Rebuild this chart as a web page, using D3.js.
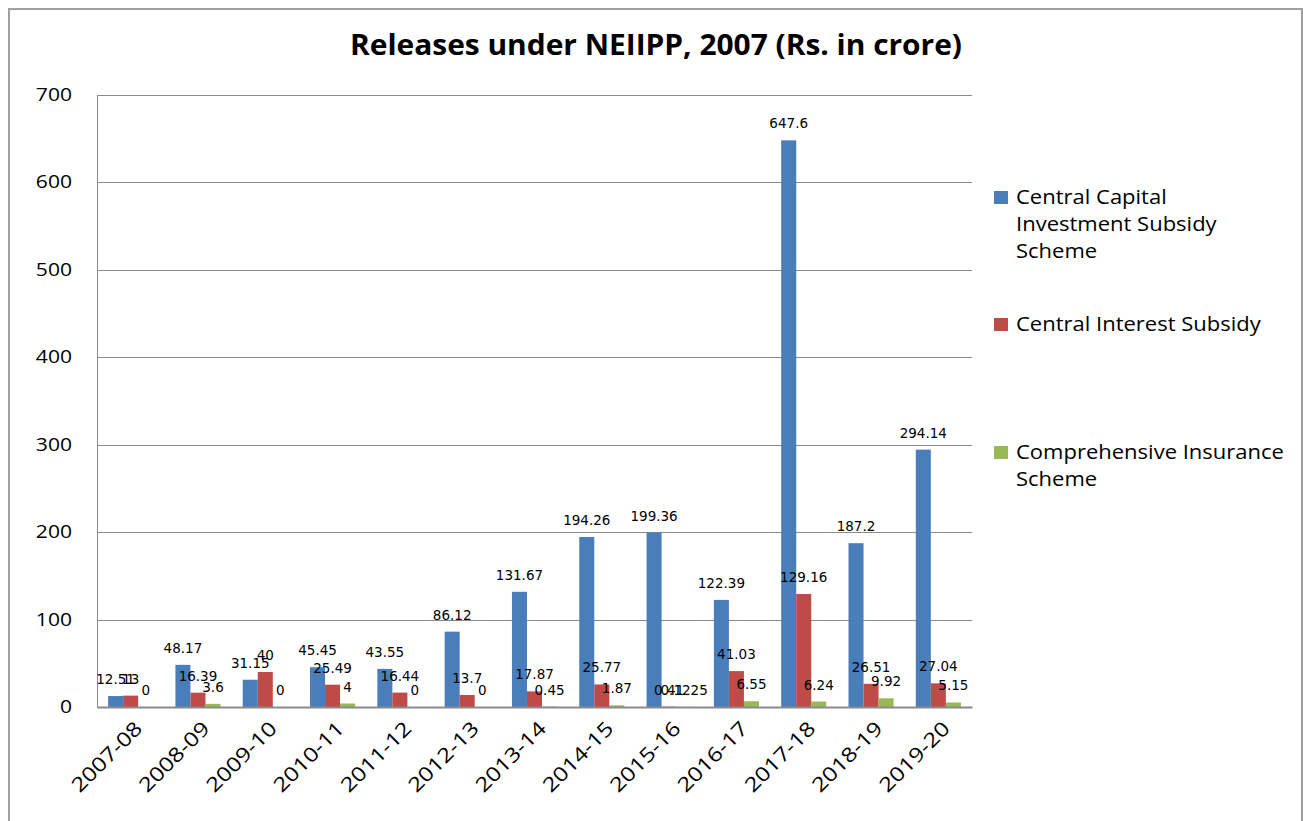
<!DOCTYPE html>
<html>
<head>
<meta charset="utf-8">
<script src="https://cdnjs.cloudflare.com/ajax/libs/d3/7.8.5/d3.min.js"></script>
<style>
body { margin: 0; background: #fff; }
svg { display: block; }
</style>
</head>
<body>
<script>
var years = ['2007-08','2008-09','2009-10','2010-11','2011-12','2012-13','2013-14','2014-15','2015-16','2016-17','2017-18','2018-19','2019-20'];
var ccis = [12.51, 48.17, 31.15, 45.45, 43.55, 86.12, 131.67, 194.26, 199.36, 122.39, 647.6, 187.2, 294.14];
var cis = [13, 16.39, 40, 25.49, 16.44, 13.7, 17.87, 25.77, 0.41, 41.03, 129.16, 26.51, 27.04];
var comp = [0, 3.6, 0, 4, 0, 0, 0.45, 1.87, 0.1225, 6.55, 6.24, 9.92, 5.15];
var seriesNames = [['Central Capital', 'Investment Subsidy', 'Scheme'], ['Central Interest Subsidy'], ['Comprehensive Insurance', 'Scheme']];
var colors = ['#4a7ebb', '#be4b48', '#98b954'];
var yTicks = [0, 100, 200, 300, 400, 500, 600, 700];

var W = 1303, H = 821;
var plot = {left: 97, top: 94.5, right: 972, bottom: 707};

// widen a text element horizontally (the original's font runs wider than ours)
function widen(sel, k) {
	sel.each(function(){
		var w = this.getComputedTextLength();
		d3.select(this).attr('textLength', w * k).attr('lengthAdjust', 'spacingAndGlyphs');
	});
}

var svg = d3.select('body').append('svg')
	.attr('width', W)
	.attr('height', H);

// outer chart frame
svg.append('rect')
	.attr('x', 9).attr('y', 9)
	.attr('width', 1293).attr('height', 830)
	.attr('fill', 'none')
	.attr('stroke', '#a0a0a0')
	.attr('stroke-width', 2);

svg.append('text')
	.attr('x', 656).attr('y', 55)
	.attr('text-anchor', 'middle')
	.attr('font-family', 'Open Sans')
	.attr('font-weight', 'bold')
	.attr('font-size', 28)
	.text('Releases under NEIIPP, 2007 (Rs. in crore)')
	.attr('textLength', 612)
	.attr('lengthAdjust', 'spacingAndGlyphs');

var x0 = d3.scaleBand().domain(years).range([plot.left, plot.right]).paddingInner(0.33).paddingOuter(0.165);
var x1 = d3.scaleBand().domain([0, 1, 2]).range([0, x0.bandwidth()]);
var y = d3.scaleLinear().domain([0, 700]).range([plot.bottom, plot.top]);

// gridlines
svg.append('g').selectAll('line')
	.data(yTicks.slice(1))
	.join('line')
	.attr('x1', plot.left).attr('x2', plot.right)
	.attr('y1', function(d){ return Math.round(y(d)) + 0.5; })
	.attr('y2', function(d){ return Math.round(y(d)) + 0.5; })
	.attr('stroke', '#8a8a8a')
	.attr('stroke-width', 1);

var yAxis = svg.append('g')
	.attr('transform', 'translate(' + plot.left + ',0)')
	.call(d3.axisLeft(y).tickValues(yTicks).tickSize(0).tickPadding(25));
yAxis.select('.domain').attr('stroke', '#8a8a8a');
yAxis.selectAll('text')
	.attr('font-family', 'Open Sans')
	.attr('font-size', 18)
	.attr('fill', '#000')
	.call(widen, 1.17);

var series = [ccis, cis, comp];
var groups = svg.append('g').selectAll('g')
	.data(series)
	.join('g')
	.attr('fill', function(d, i){ return colors[i]; });

groups.each(function(vals, si){
	d3.select(this).selectAll('rect')
		.data(vals)
		.join('rect')
		.attr('x', function(d, i){ return x0(years[i]) + x1(si); })
		.attr('width', x1.bandwidth())
		.attr('y', function(d){ return y(d); })
		.attr('height', function(d){ return y(0) - y(d); });
});

var xAxis = svg.append('g')
	.attr('transform', 'translate(0,' + plot.bottom + ')')
	.call(d3.axisBottom(x0).tickSize(0).tickPadding(0));
xAxis.select('.domain').attr('stroke', '#8a8a8a').attr('stroke-width', 2);
xAxis.selectAll('text')
	.attr('font-family', 'Open Sans')
	.attr('font-size', 20)
	.attr('fill', '#000')
	.attr('text-anchor', 'end')
	.attr('dy', '0.7em')
	.attr('y', 0)
	.attr('transform', 'translate(3,13) rotate(-45)')
	.call(widen, 1.2);

// data labels
var labels = svg.append('g')
	.attr('font-family', 'DejaVu Sans')
	.attr('font-size', 13.5)
	.attr('text-anchor', 'middle')
	.attr('fill', '#000');
series.forEach(function(vals, si){
	labels.selectAll('text.s' + si)
		.data(vals)
		.join('text')
		.attr('class', 's' + si)
		.attr('x', function(d, i){ return x0(years[i]) + x1(si) + x1.bandwidth() / 2; })
		.attr('y', function(d){ return y(d) - 12; })
		.text(function(d){ return d; });
});

// legend
var legendY = [197, 324, 452];
var legend = svg.append('g')
	.attr('font-family', 'Open Sans')
	.attr('font-size', 20);
seriesNames.forEach(function(lines, i){
	legend.append('rect')
		.attr('x', 994).attr('y', legendY[i] - 6)
		.attr('width', 14).attr('height', 13)
		.attr('fill', colors[i]);
	lines.forEach(function(l, k){
		legend.append('text')
			.attr('x', 1016)
			.attr('y', legendY[i] + 7 + k * 27)
			.text(l)
			.call(widen, 1.1);
	});
});
</script>
</body>
</html>
